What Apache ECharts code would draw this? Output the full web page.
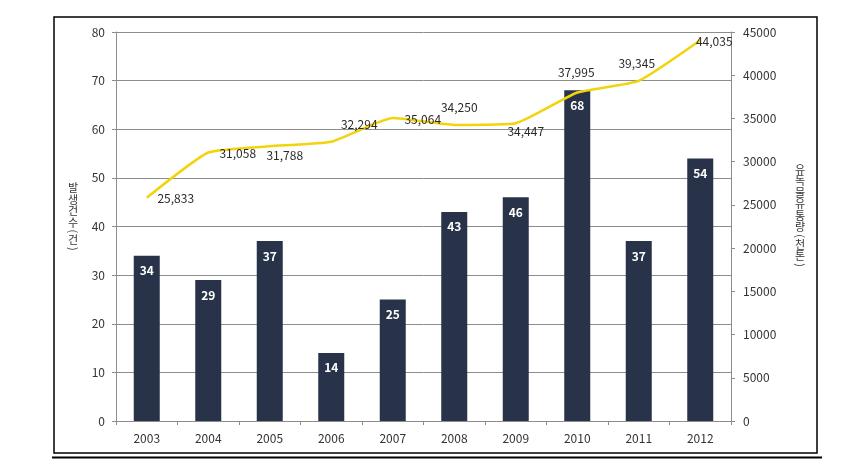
<!DOCTYPE html>
<html>
<head>
<meta charset="utf-8">
<script src="https://cdn.jsdelivr.net/npm/echarts@6/dist/echarts.min.js"></script>
<style>
html,body{margin:0;padding:0;background:#fff;}
#chart{width:854px;height:466px;}
</style>
</head>
<body>
<div id="chart"></div>
<script>
const years = ['2003','2004','2005','2006','2007','2008','2009','2010','2011','2012'];
const incidents = [34, 29, 37, 14, 25, 43, 46, 68, 37, 54];
const toxicVolume = [25833, 31058, 31788, 32294, 35064, 34250, 34447, 37995, 39345, 44035];
const leftAxisName = '발생건수(건)';
const rightAxisName = '유독물유통량(천톤)';

// label offsets (style only)
const lineLabelOffsets = [[29,1],[29.5,0.5],[15,9],[28,-17],[30,2],[5,-17],[10,8],[-1,-20],[-2,-17],[14,1]];

const FONT = '"Noto Sans CJK KR", "Noto Sans", sans-serif';
const chart = echarts.init(document.getElementById('chart'), null, {renderer:'canvas'});

const lineData = toxicVolume.map((v, i) => ({
  value: v,
  label: { offset: lineLabelOffsets[i] }
}));

// stacked vertical (upright) axis title; parentheses turned sideways
function verticalTitle(str, cx, cy, step, parenStep) {
  const chars = Array.from(str);
  const isParen = c => (c === '(' || c === ')');
  const heights = chars.map(c => isParen(c) ? parenStep : step);
  const total = heights.reduce((a, b) => a + b, 0);
  let y = cy - total / 2;
  return chars.map((c, i) => {
    const yc = y + heights[i] / 2;
    y += heights[i];
    return {
      type: 'text', x: cx, y: yc,
      rotation: isParen(c) ? -Math.PI / 2 : 0,
      style: { text: c, fill: '#333', font: '11px ' + FONT, align: 'center', verticalAlign: 'middle' }
    };
  });
}

chart.setOption({
  animation: false,
  backgroundColor: '#ffffff',
  textStyle: { fontFamily: FONT },
  grid: { left: 116, right: 123, top: 32, bottom: 45 },
  graphic: [
    { type: 'rect', shape: { x: 54, y: 17, width: 763, height: 436 },
      style: { fill: 'none', stroke: '#000', lineWidth: 1.5 }, z: 0 },
    { type: 'line', shape: { x1: 52, y1: 457.5, x2: 822, y2: 457.5 },
      style: { stroke: '#000', lineWidth: 2 }, z: 0 }
  ].concat(verticalTitle(leftAxisName, 73, 217, 11.5, 6))
   .concat(verticalTitle(rightAxisName, 800, 216, 11.5, 6)),
  xAxis: {
    type: 'category',
    data: years,
    axisLine: { lineStyle: { color: '#8c8c8c', width: 1 } },
    axisTick: { show: true, alignWithLabel: false, length: 4, inside: false, lineStyle: { color: '#8c8c8c' } },
    axisLabel: { color: '#333', fontSize: 12, margin: 11, fontFamily: FONT }
  },
  yAxis: [
    {
      type: 'value', min: 0, max: 80, interval: 10, position: 'left',
      axisLine: { show: true, lineStyle: { color: '#8c8c8c' } },
      axisTick: { show: true, length: 4, lineStyle: { color: '#8c8c8c' } },
      axisLabel: { color: '#333', fontSize: 12, margin: 11 },
      splitLine: { show: true, lineStyle: { color: '#8c8c8c', width: 1 } }
    },
    {
      type: 'value', min: 0, max: 45000, interval: 5000, position: 'right',
      axisLine: { show: true, lineStyle: { color: '#8c8c8c' } },
      axisTick: { show: true, length: 4, lineStyle: { color: '#8c8c8c' } },
      axisLabel: { color: '#333', fontSize: 12, margin: 12, formatter: v => String(v) },
      splitLine: { show: false }
    }
  ],
  series: [
    {
      type: 'bar',
      data: incidents,
      yAxisIndex: 0,
      barWidth: 26,
      itemStyle: { color: '#283249' },
      label: {
        show: true, position: 'insideTop', distance: 9,
        color: '#fff', fontSize: 12, fontWeight: 'bold', fontFamily: FONT
      },
      z: 2
    },
    {
      type: 'line',
      data: lineData,
      yAxisIndex: 1,
      smooth: 0.15,
      symbol: 'circle',
      symbolSize: 0.1,
      showSymbol: true,
      itemStyle: { color: 'rgba(0,0,0,0)' },
      lineStyle: { color: '#f2d40c', width: 2.5 },
      label: {
        show: true, position: 'inside',
        color: '#2a2a2a', fontSize: 12, fontFamily: FONT,
        formatter: p => p.value.toLocaleString('en-US')
      },
      z: 3
    }
  ]
});
</script>
</body>
</html>
